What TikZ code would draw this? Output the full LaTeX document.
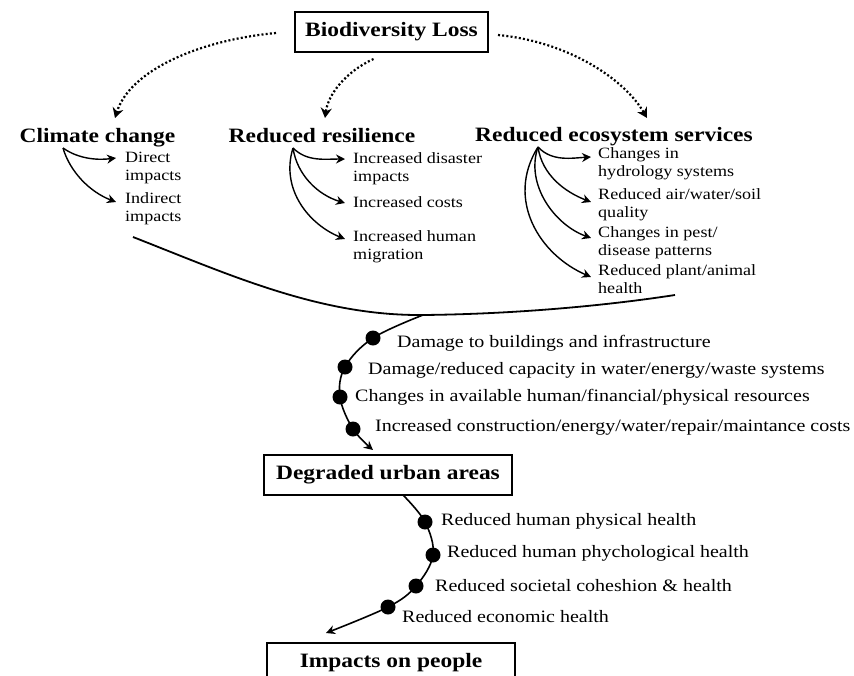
\documentclass[tikz,border=0pt]{standalone}
\usepackage{fontspec}
\setmainfont{Liberation Serif}[FakeStretch=1.15]
\usetikzlibrary{arrows.meta}
\begin{document}
\begin{tikzpicture}[x=1pt,y=-1pt,
  box/.style={draw, line width=2pt, font=\bfseries\fontsize{20.4}{24}\selectfont, inner sep=0pt},
  head/.style={font=\bfseries\fontsize{20.4}{24}\selectfont, inner sep=0pt, anchor=base},
  small/.style={font=\fontsize{15.7}{18.5}\selectfont, align=left, inner sep=0pt, anchor=base west},
  mid/.style={font=\fontsize{17.4}{20}\selectfont, inner sep=0pt, anchor=west},
  bullet/.style={circle, fill=black, minimum size=15pt, inner sep=0pt},
  dotarrow/.style={line width=2.2pt, dash pattern=on 2pt off 2.2pt, -{Stealth[length=10pt,width=11pt]}},
  arr/.style={line width=1.4pt, -{Stealth[length=9pt,width=9pt]}},
  thick curve/.style={line width=1.8pt}
]
\path[use as bounding box, clip] (0,0) rectangle (854,675);

% boxes
\node[box, minimum width=193pt, minimum height=40pt] (bio) at (391.5,32) {Biodiversity Loss};
\node[box, minimum width=248pt, minimum height=40pt] (urban) at (388,475) {Degraded urban areas};
\node[box, minimum width=248pt, minimum height=40pt] (people) at (391,663) {Impacts on people};

% headings
\node[head] (cc) at (97.5,142) {Climate change};
\node[head] (rr) at (322,142) {Reduced resilience};
\node[head] (es) at (614,141) {Reduced ecosystem services};

% dotted arrows
\coordinate (ccIn) at (115,118);
\coordinate (rrIn) at (325,118);
\coordinate (esIn) at (647,118);
\path (bio.west) ++(-18,1) coordinate (bioL);
\path (bio.south) ++(-18,6) coordinate (bioS);
\path (bio.east) ++(9,3) coordinate (bioR);
\draw[dotarrow] (bioL) .. controls (200,40) and (130,70) .. (ccIn);
\draw[dotarrow] (bioS) .. controls (345,72) and (328,95) .. (rrIn);
\draw[dotarrow] (bioR) .. controls (570,42) and (625,80) .. (esIn);

% climate change branch
\coordinate (ccO) at (63,148);
\node[small] (cc1) at (125,180.5) {Direct\\impacts};
\node[small] (cc2) at (125,221.5) {Indirect\\impacts};
\coordinate (cc1t) at (116,158);
\coordinate (cc2t) at (116,202);
\draw[arr] (ccO) .. controls (80,160) and (100,160) .. (cc1t);
\draw[arr] (ccO) .. controls (70,172) and (90,192) .. (cc2t);

% resilience branch
\coordinate (rrO) at (293,148);
\node[small] (rr1) at (353,181.5) {Increased disaster\\impacts};
\node[small] (rr2) at (353,207) {Increased costs};
\node[small] (rr3) at (353,259.5) {Increased human\\migration};
\coordinate (rr1t) at (345,159);
\coordinate (rr2t) at (345,203);
\coordinate (rr3t) at (345,239);
\draw[arr] (rrO) .. controls (307,162) and (325,159) .. (rr1t);
\draw[arr] (rrO) .. controls (297,175) and (318,195) .. (rr2t);
\draw[arr] (rrO) .. controls (280,190) and (310,225) .. (rr3t);

% ecosystem branch
\coordinate (esO) at (538,147);
\node[small] (es1) at (598,176.5) {Changes in\\hydrology systems};
\node[small] (es2) at (598,217.5) {Reduced air/water/soil\\quality};
\node[small] (es3) at (598,255.5) {Changes in pest/\\disease patterns};
\node[small] (es4) at (598,293.5) {Reduced plant/animal\\health};
\coordinate (es1t) at (591,157);
\coordinate (es2t) at (591,202);
\coordinate (es3t) at (591,238);
\coordinate (es4t) at (591,277);
\draw[arr] (esO) .. controls (552,162) and (572,158) .. (es1t);
\draw[arr] (esO) .. controls (542,175) and (565,192) .. (es2t);
\draw[arr] (esO) .. controls (525,185) and (555,225) .. (es3t);
\draw[arr] (esO) .. controls (505,200) and (540,255) .. (es4t);

% big gathering curve
\coordinate (gL) at (133,237);
\coordinate (gB) at (423,315);
\coordinate (gR) at (675,295);
\draw[thick curve] (gL) .. controls (230,275) and (320,316) .. (gB) .. controls (520,314) and (610,305) .. (gR);

% damage chain
\node[bullet] (d1) at (373,338) {};
\node[bullet] (d2) at (345,367) {};
\node[bullet] (d3) at (340,397) {};
\node[bullet] (d4) at (353,429) {};
\coordinate (dT) at (373,450);
\draw[arr, line width=1.6pt] plot[smooth, tension=0.6] coordinates {(gB) (d1.center) (d2.center) (d3.center) (d4.center) (dT)};
\node[mid] (t1) at (397,343) {Damage to buildings and infrastructure};
\node[mid] (t2) at (368,370) {Damage/reduced capacity in water/energy/waste systems};
\node[mid] (t3) at (355,397) {Changes in available human/financial/physical resources};
\node[mid] (t4) at (375,427) {Increased construction/energy/water/repair/maintance costs};

% health chain
\node[bullet] (h1) at (425,522) {};
\node[bullet] (h2) at (433,555) {};
\node[bullet] (h3) at (416,586) {};
\node[bullet] (h4) at (388,607) {};
\coordinate (uB) at (403,495);
\coordinate (hT) at (326,633);
\draw[arr, line width=1.6pt] plot[smooth, tension=0.6] coordinates {(uB) (h1.center) (h2.center) (h3.center) (h4.center) (hT)};
\node[mid] (u1) at (441,521) {Reduced human physical health};
\node[mid] (u2) at (447,553) {Reduced human phychological health};
\node[mid] (u3) at (435,586) {Reduced societal coheshion \& health};
\node[mid] (u4) at (402,617) {Reduced economic health};
\end{tikzpicture}
\end{document}
